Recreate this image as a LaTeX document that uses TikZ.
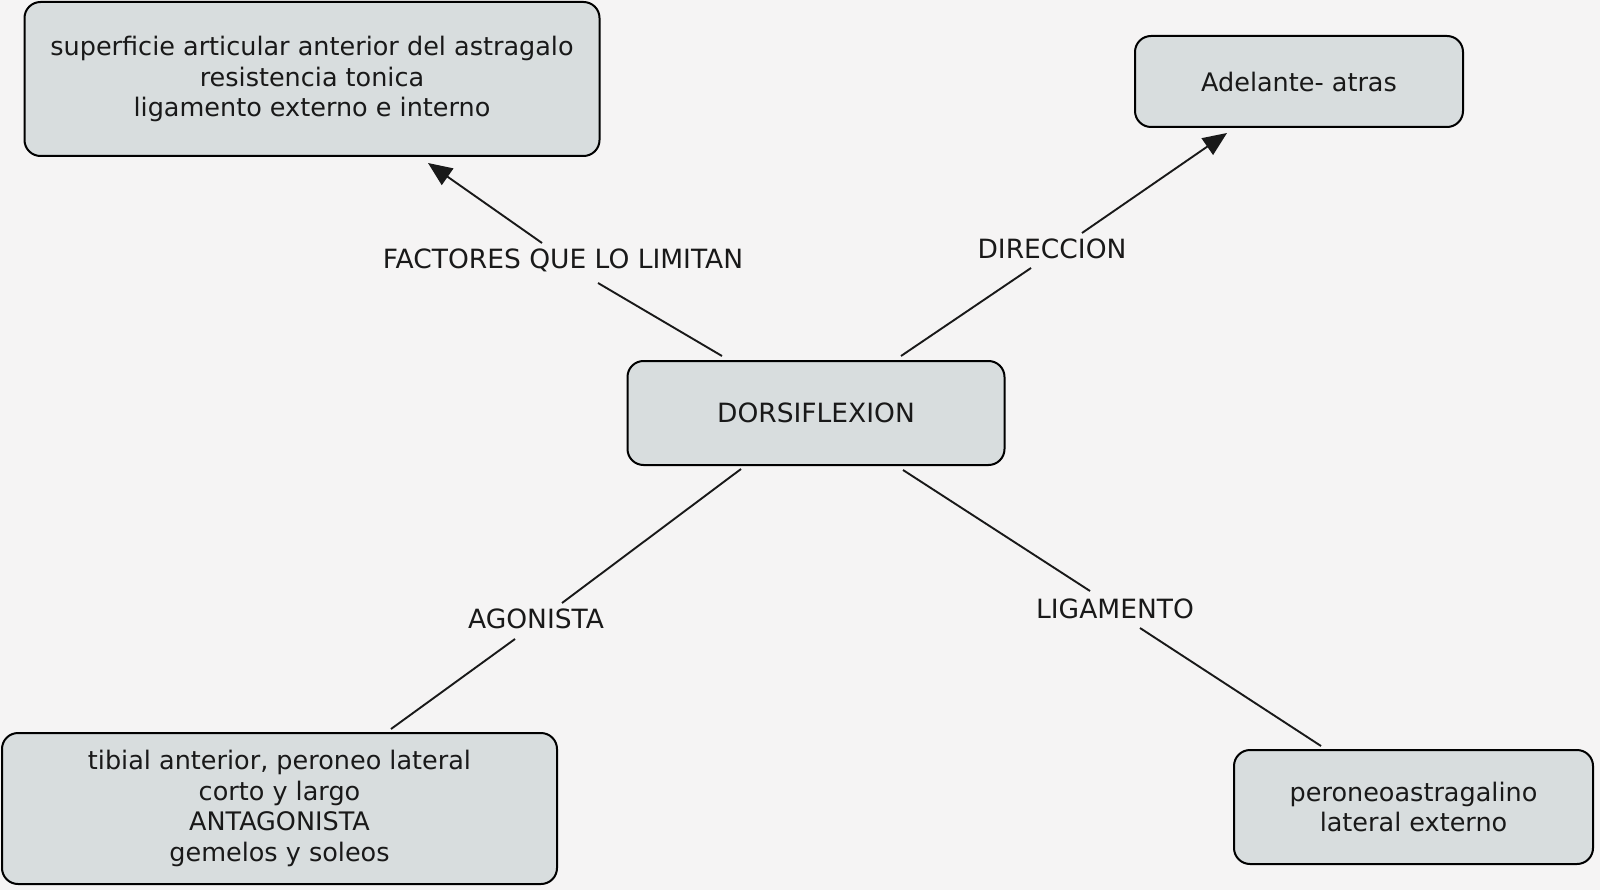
\documentclass[tikz,border=0pt]{standalone}
\usepackage{fontspec}
\setmainfont{DejaVu Sans}
\usetikzlibrary{arrows.meta}
\definecolor{bgc}{RGB}{245,244,244}
\definecolor{boxfill}{RGB}{216,221,222}
\definecolor{txt}{RGB}{25,25,25}
\begin{document}
\begin{tikzpicture}[x=1pt,y=-1pt,
  concept/.style={draw=black,line width=2pt,fill=boxfill,rounded corners=16pt,
    align=center,inner sep=0pt,text=txt,font=\fontsize{25.5}{30.5}\selectfont},
  linklabel/.style={inner sep=0pt,text=txt,font=\fontsize{26.5}{30}\selectfont},
  conn/.style={line width=1.9pt,draw=black!90},
  arr/.style={conn,-{Triangle[length=24pt,width=20pt]}}]
\useasboundingbox[fill=bgc] (0,0) rectangle (1600,890);
% concept boxes
\node[concept,minimum width=575pt,minimum height=154pt] (fact) at (312,79)
  {superficie articular anterior del astragalo\\resistencia tonica\\ligamento externo e interno};
\node[concept,minimum width=328pt,minimum height=91pt] (dir) at (1299,81.5) {Adelante- atras};
\node[concept,minimum width=377pt,minimum height=104pt,font=\fontsize{26.5}{30.5}\selectfont] (dors) at (816,413) {DORSIFLEXION};
\node[concept,minimum width=555pt,minimum height=151pt] (agon) at (279.5,808.5)
  {tibial anterior, peroneo lateral\\corto y largo\\ANTAGONISTA\\gemelos y soleos};
\node[concept,minimum width=359pt,minimum height=114pt] (lig) at (1413.5,807)
  {peroneoastragalino\\lateral externo};
% link labels
\node[linklabel] (lfact) at (563,260) {FACTORES QUE LO LIMITAN};
\node[linklabel] (ldir) at (1052,249) {DIRECCION};
\node[linklabel] (lagon) at (536,619) {AGONISTA};
\node[linklabel] (llig) at (1115,609) {LIGAMENTO};
% connector end points
\coordinate (f1) at (722,356); \coordinate (f2) at (598,283);
\coordinate (f3) at (542,243); \coordinate (f4) at (428,163);
\coordinate (d1) at (901,356); \coordinate (d2) at (1031,268);
\coordinate (d3) at (1082,233); \coordinate (d4) at (1227,133);
\coordinate (a1) at (741,469); \coordinate (a2) at (562,603);
\coordinate (a3) at (515,639); \coordinate (a4) at (391,729);
\coordinate (g1) at (903,470); \coordinate (g2) at (1090,591);
\coordinate (g3) at (1140,628); \coordinate (g4) at (1321,746);
% connectors
\draw[conn] (f1) -- (f2);
\draw[arr] (f3) -- (f4);
\draw[conn] (d1) -- (d2);
\draw[arr] (d3) -- (d4);
\draw[conn] (a1) -- (a2);
\draw[conn] (a3) -- (a4);
\draw[conn] (g1) -- (g2);
\draw[conn] (g3) -- (g4);
\end{tikzpicture}
\end{document}
